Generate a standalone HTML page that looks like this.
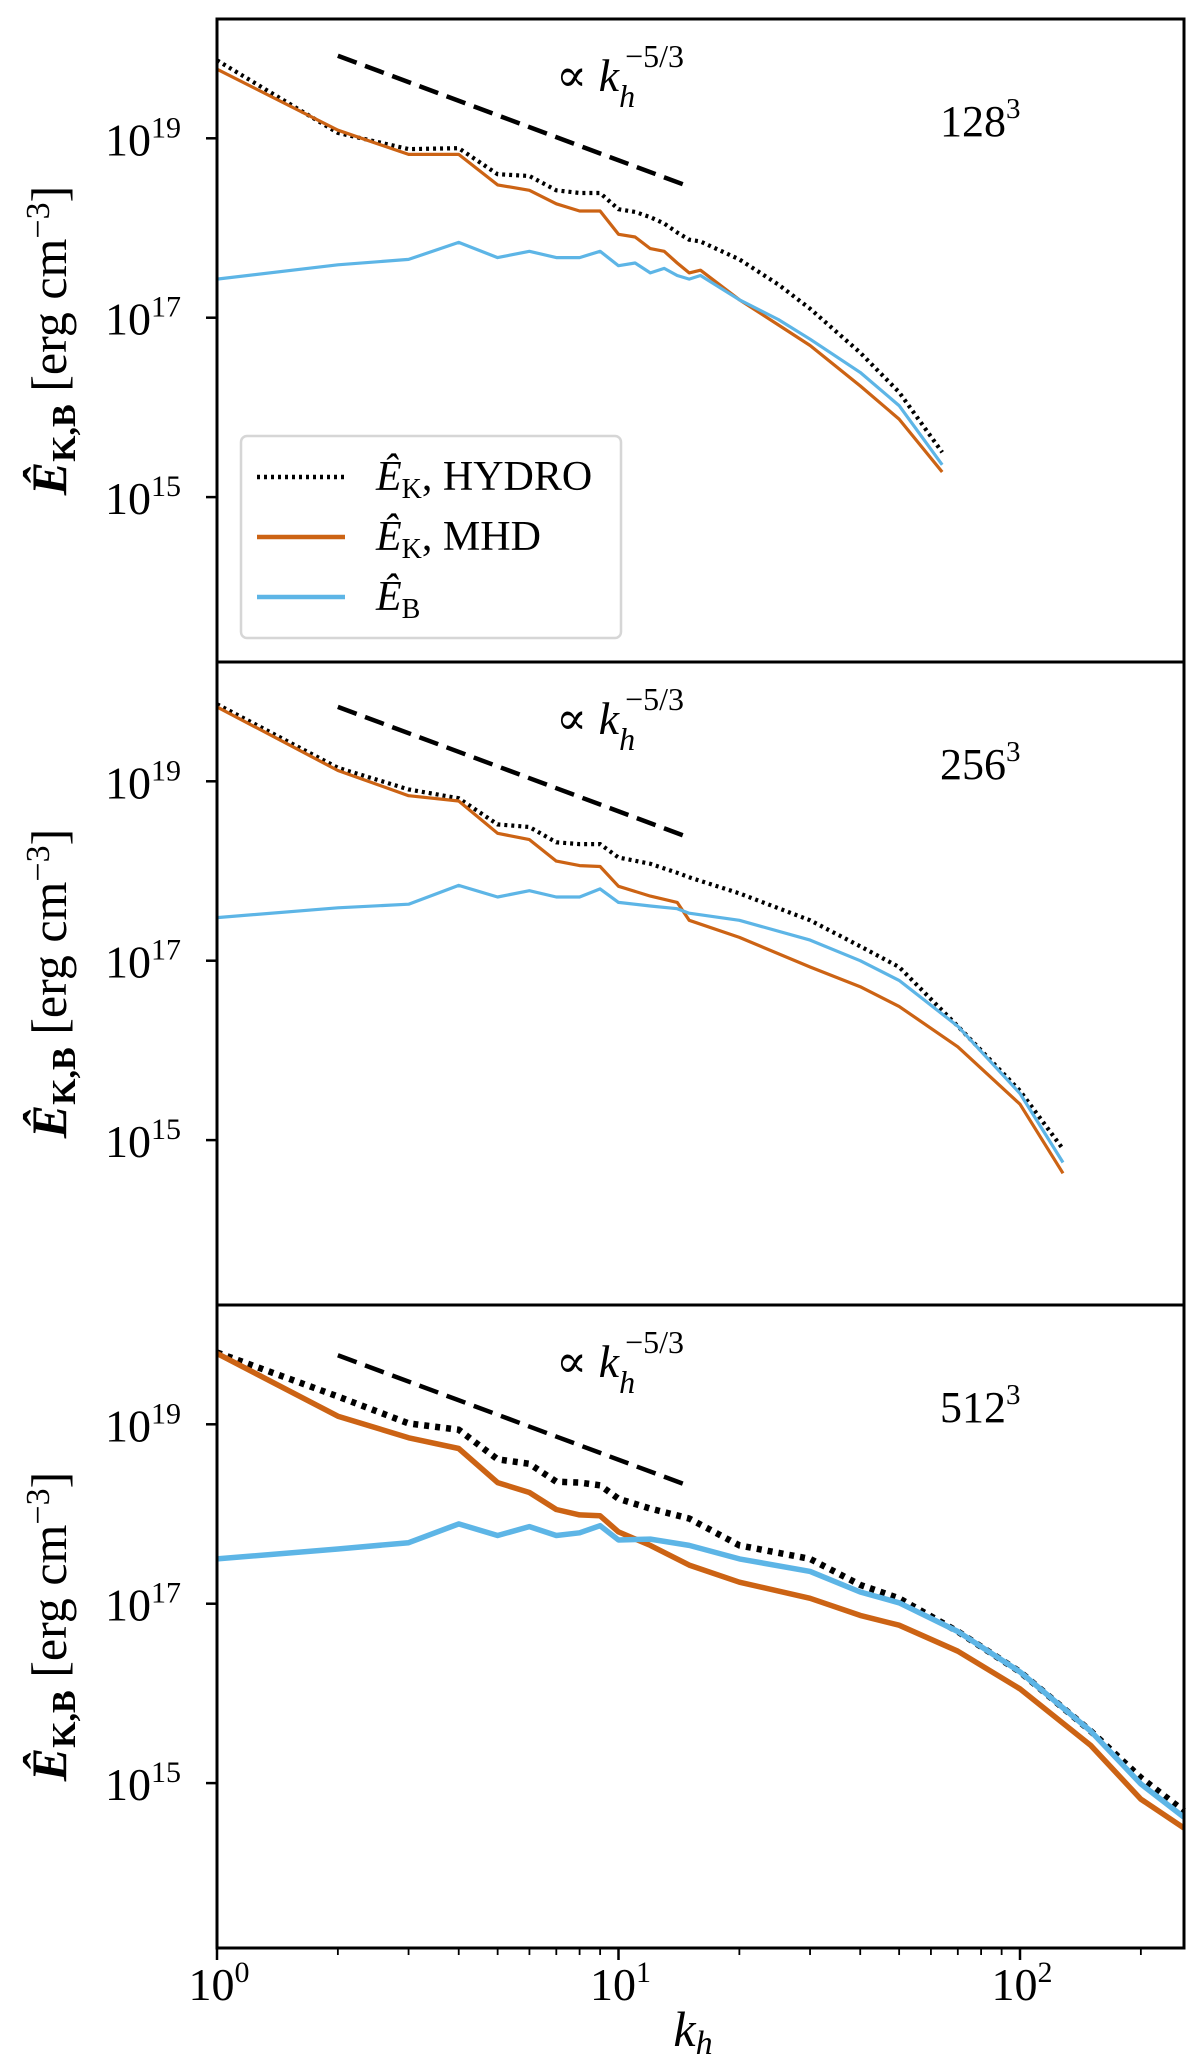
<!DOCTYPE html>
<html><head><meta charset="utf-8"><style>
html,body{margin:0;padding:0;background:#fff;}
svg{display:block;font-family:"Liberation Serif","DejaVu Serif",serif;}
</style></head><body>
<svg id="chart" width="1200" height="2067" viewBox="0 0 1200 2067" xmlns="http://www.w3.org/2000/svg"></svg>
<script>
// ---- data (log10 of energy) ----
const k128 = [1,2,3,4,5,6,7,8,9,10,11,12,13,14,15,16,20,25,30,40,50,64];
const mhd128 = [19.77,19.09,18.82,18.82,18.48,18.42,18.27,18.19,18.19,17.93,17.90,17.77,17.74,17.61,17.50,17.53,17.20,16.92,16.69,16.24,15.87,15.28];
const hydro128 = [19.87,19.06,18.88,18.89,18.60,18.58,18.42,18.39,18.39,18.21,18.18,18.12,18.05,17.95,17.87,17.85,17.65,17.37,17.10,16.61,16.17,15.50];
const b128 = [17.43,17.59,17.65,17.84,17.67,17.74,17.67,17.67,17.74,17.58,17.61,17.50,17.55,17.47,17.43,17.47,17.20,16.98,16.76,16.39,16.02,15.36];

const k256 = [1,2,3,4,5,6,7,8,9,10,12,14,15,20,30,40,50,70,100,128];
const mhd256 = [19.83,19.12,18.84,18.78,18.42,18.35,18.11,18.06,18.05,17.83,17.72,17.65,17.45,17.26,16.93,16.71,16.49,16.04,15.40,14.63];
const hydro256 = [19.86,19.15,18.91,18.81,18.52,18.49,18.32,18.30,18.30,18.15,18.08,17.98,17.93,17.75,17.45,17.16,16.93,16.27,15.55,14.90];
const b256 = [17.48,17.59,17.63,17.84,17.71,17.78,17.71,17.71,17.80,17.65,17.61,17.58,17.53,17.45,17.23,17.00,16.78,16.27,15.52,14.75];

const k512 = [1,2,3,4,5,6,7,8,9,10,12,15,20,30,40,50,70,100,150,200,256];
const mhd512 = [19.79,19.09,18.85,18.73,18.35,18.24,18.05,17.99,17.98,17.80,17.65,17.43,17.24,17.06,16.87,16.76,16.47,16.05,15.42,14.82,14.50];
const hydro512 = [19.80,19.31,19.01,18.94,18.61,18.56,18.36,18.35,18.32,18.17,18.06,17.95,17.65,17.50,17.21,17.06,16.69,16.24,15.58,15.06,14.69];
const b512 = [17.50,17.61,17.68,17.89,17.76,17.86,17.76,17.79,17.87,17.71,17.72,17.65,17.50,17.36,17.13,17.01,16.69,16.24,15.58,14.99,14.62];

const refStart = [19.92,19.83,19.77]; // log10 at k=2 for the k^-5/3 guide
const panelLabels = ["128","256","512"];
const yTicks = [15,17,19];
const xTicks = [0,1,2];

// ---- layout ----
const NS="http://www.w3.org/2000/svg";
const svg=document.getElementById('chart');
const L=217,R=1184,DEC=401.5,YMAX=20.33,YDEC=89.7,PH=643;
const tops=[19,662,1305];
const X=k=>L+Math.log10(k)*DEC;
function mk(tag,attrs,parent){const e=document.createElementNS(NS,tag);for(const a in attrs)e.setAttribute(a,attrs[a]);(parent||svg).appendChild(e);return e;}
const ORANGE="#cc6314", BLUE="#5db5e6";

const panels=[
 {k:k128,m:mhd128,h:hydro128,b:b128,lw:3.2},
 {k:k256,m:mhd256,h:hydro256,b:b256,lw:3.2},
 {k:k512,m:mhd512,h:hydro512,b:b512,lw:5.5}
];
panels.forEach((p,i)=>{
  const T=tops[i];
  const Y=v=>T+(YMAX-v)*YDEC;
  const g=mk('g',{});
  
  
  const pts=arr=>p.k.map((k,j)=>X(k).toFixed(1)+','+Y(arr[j]).toFixed(1)).join(' ');
  const gl=mk('line',{x1:X(2),y1:Y(refStart[i]),x2:X(15),y2:Y(refStart[i]-5/3*Math.log10(7.5)),stroke:'#000','stroke-width':4.5,'stroke-dasharray':'20,9'},g);
  
  
  const hl=mk('polyline',{points:pts(p.h),fill:'none',stroke:'#000','stroke-width':p.lw+1,'stroke-dasharray':(i==2?'5,6':'3,4')},g);
  
  
  const ml=mk('polyline',{points:pts(p.m),fill:'none',stroke:ORANGE,'stroke-width':p.lw,'stroke-linejoin':'round'},g);
  
  
  const bl=mk('polyline',{points:pts(p.b),fill:'none',stroke:BLUE,'stroke-width':p.lw,'stroke-linejoin':'round'},g);
  
  
  const fr=mk('rect',{x:L,y:T,width:R-L,height:PH,fill:'none',stroke:'#000','stroke-width':3},g);
  
  
  yTicks.forEach(t=>{
    const y=Y(t);
    const tk=mk('line',{x1:L-11,y1:y,x2:L,y2:y,stroke:'#000','stroke-width':2.5},g);
    
    
    const tx=mk('text',{x:L-36,y:y+17,'text-anchor':'end','font-size':46},g);
    
    
    tx.innerHTML='10<tspan dy="-18" font-size="30">'+t+'</tspan>';
  });
  const an=mk('text',{x:556,y:T+72,'font-size':46},g);
  
  
  an.innerHTML='∝ <tspan font-style="italic">k</tspan><tspan font-style="italic" font-size="32" dy="16">h</tspan><tspan font-size="32" dy="-40" dx="-10">−5/3</tspan>';
  const rl=mk('text',{x:940,y:T+117,'font-size':44},g);
  
  
  rl.innerHTML=panelLabels[i]+'<tspan dy="-18" font-size="29">3</tspan>';
  const yl=mk('text',{x:0,y:0,'font-size':50,'text-anchor':'middle',transform:'translate(66,'+(T+PH/2)+') rotate(-90)'},g);
  
  
  yl.innerHTML='<tspan font-style="italic" font-weight="bold">Ê</tspan><tspan font-size="34" dy="9" font-weight="bold">K,B</tspan><tspan dy="-9"> [erg cm</tspan><tspan font-size="34" dy="-17">−3</tspan><tspan dy="17">]</tspan>';
});

const B=tops[2]+PH;
xTicks.forEach(d=>{
  const x=X(Math.pow(10,d));
  const t=mk('line',{x1:x,y1:B,x2:x,y2:B+12,stroke:'#000','stroke-width':2.5});
  
  
  const tx=mk('text',{x:x+2,y:B+52,'text-anchor':'middle','font-size':46});
  
  
  tx.innerHTML='10<tspan dy="-18" font-size="30">'+d+'</tspan>';
  for(let m=2;m<=9;m++){
    const k=m*Math.pow(10,d); if(k>256)break;
    const mt=mk('line',{x1:X(k),y1:B,x2:X(k),y2:B+7,stroke:'#000','stroke-width':1.8});
    
    
  }
});
const xl=mk('text',{x:693,y:2046,'text-anchor':'middle','font-size':50,'font-style':'italic'});


xl.innerHTML='k<tspan font-size="34" dy="8">h</tspan>';

const lg=mk('g',{});


mk('rect',{x:241,y:436,width:380,height:202,rx:6,fill:'#fff','fill-opacity':0.9,stroke:'#d6d6d6','stroke-width':2.5},lg);
const entries=[['#000','3,4','<tspan font-style="italic">Ê</tspan><tspan font-size="28" dy="8">K</tspan><tspan dy="-8">,  HYDRO</tspan>','legend-entry-hydro'],
 [ORANGE,'','<tspan font-style="italic">Ê</tspan><tspan font-size="28" dy="8">K</tspan><tspan dy="-8">,  MHD</tspan>','legend-entry-mhd'],
 [BLUE,'','<tspan font-style="italic">Ê</tspan><tspan font-size="28" dy="8">B</tspan>','legend-entry-magnetic']];
entries.forEach((e,j)=>{
  const y=477+j*60;
  const eg=mk('g',{},lg);
  
  
  const a={x1:257,y1:y,x2:345,y2:y,stroke:e[0],'stroke-width':4.5};
  if(e[1])a['stroke-dasharray']=e[1];
  mk('line',a,eg);
  const t=mk('text',{x:376,y:y+13,'font-size':42},eg);
  t.innerHTML=e[2];
});
</script>
</body></html>
